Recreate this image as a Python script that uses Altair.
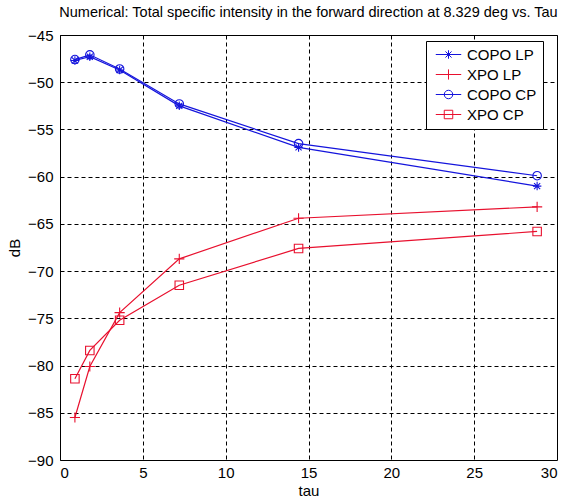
import altair as alt
import pandas as pd

tau = [0.9, 1.8, 3.6, 7.2, 14.4, 28.8]
copo_lp = [-47.7, -47.3, -48.7, -52.5, -56.9, -61.0]
xpo_lp = [-85.5, -80.1, -74.4, -68.7, -64.4, -63.2]
copo_cp = [-47.6, -47.1, -48.6, -52.3, -56.5, -59.9]
xpo_cp = [-81.4, -78.4, -75.2, -71.5, -67.6, -65.8]

series_names = ["COPO LP", "XPO LP", "COPO CP", "XPO CP"]
series_vals = [copo_lp, xpo_lp, copo_cp, xpo_cp]
series_colors = ["#1414dc", "#e8102e", "#1414dc", "#e8102e"]

x_ticks = [0, 5, 10, 15, 20, 25, 30]
y_ticks = [-45, -50, -55, -60, -65, -70, -75, -80, -85, -90]

rows = []
for name, vals in zip(series_names, series_vals):
    for t, v in zip(tau, vals):
        rows.append({"series": name, "tau": t, "dB": v})
df = pd.DataFrame(rows)

FONT = "Liberation Sans"

ast = "M-1,0H1M0,-1V1M-0.72,-0.72L0.72,0.72M-0.72,0.72L0.72,-0.72"
plus = "M-1.2,0H1.2M0,-1.2V1.2"
circ = "M1,0A1,1 0 1,1 -1,0A1,1 0 1,1 1,0Z"
sq = "M-1,-1H1V1H-1Z"
marker_paths = [ast, plus, circ, sq]
line_seg = "M-3,0H3"
legend_paths = [line_seg + p for p in marker_paths]

x = alt.X("tau:Q", scale=alt.Scale(domain=[0, 30], nice=False),
          axis=alt.Axis(values=x_ticks, title="tau", titleFontWeight="normal"))
y = alt.Y("dB:Q", scale=alt.Scale(domain=[-90, -45], nice=False),
          axis=alt.Axis(values=y_ticks, title="dB", titleFontWeight="normal"))

color_plain = alt.Color("series:N",
                        scale=alt.Scale(domain=series_names, range=series_colors),
                        legend=None)

lines = alt.Chart(df).mark_line(strokeWidth=1.2).encode(
    x=x, y=y, color=color_plain, detail="series:N")

points = alt.Chart(df).mark_point(filled=False, size=72, strokeWidth=1.1, opacity=1).encode(
    x=x, y=y, color=color_plain,
    shape=alt.Shape("series:N", scale=alt.Scale(domain=series_names, range=marker_paths),
                    legend=None),
)

legend = alt.Legend(
    title=None,
    orient="none",
    legendX=366,
    legendY=6,
    strokeColor="black",
    fillColor="white",
    padding=6,
    cornerRadius=0,
    symbolSize=72,
    symbolStrokeWidth=1,
    symbolOffset=9,
    labelOffset=11,
    labelFont=FONT,
    labelFontSize=15,
    labelColor="black",
    rowPadding=4,
)

legend_layer = alt.Chart(df).transform_filter("datum.tau < -1000").mark_point(
    filled=False, size=72, strokeWidth=1, opacity=1
).encode(
    x=x, y=y,
    color=alt.Color("series:N", scale=alt.Scale(domain=series_names, range=series_colors),
                    legend=legend),
    shape=alt.Shape("series:N", scale=alt.Scale(domain=series_names, range=legend_paths),
                    legend=legend),
)

chart = alt.layer(lines, points, legend_layer).resolve_scale(
    shape="independent", color="independent"
).properties(
    width=497,
    height=425,
    title=alt.Title(
        "Numerical: Total specific intensity in the forward direction at 8.329 deg vs. Tau",
        font=FONT, fontSize=14.5, fontWeight="normal", color="black", offset=8,
    ),
    autosize=alt.AutoSizeParams(type="none"),
    padding={"left": 60, "top": 35, "right": 18, "bottom": 43},
).configure_view(
    stroke="black", strokeWidth=1
).configure_axis(
    grid=True, gridColor="black", gridDash=[4, 3], gridOpacity=1, gridWidth=1,
    domain=False, ticks=False,
    labelFont=FONT, labelFontSize=15, labelColor="black",
    titleFont=FONT, titleFontSize=15, titleColor="black",
).configure_axisY(titlePadding=5, labelPadding=7).configure_axisX(titlePadding=3, labelPadding=5)

chart.save("out.html", embed_options={"renderer": "svg", "actions": False})
